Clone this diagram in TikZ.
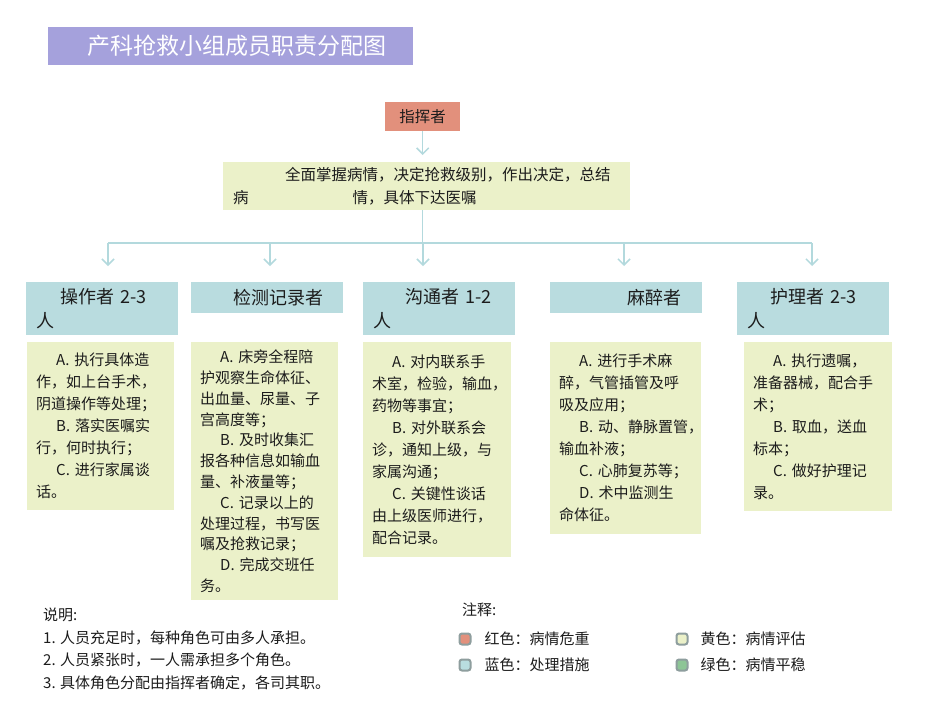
\documentclass[tikz,border=0pt]{standalone}
\usepackage{fontspec}
\newfontfamily\cjk{Noto Sans CJK SC}
\usetikzlibrary{arrows.meta,positioning}
\usepackage{xcolor}
\definecolor{titlepurple}{HTML}{A5A1DC}
\definecolor{chiefred}{HTML}{E2907C}
\definecolor{evalyellow}{HTML}{EBF1C9}
\definecolor{actteal}{HTML}{B9DDE0}
\definecolor{acttealfill}{HTML}{ADD7DA}
\definecolor{stablegreen}{HTML}{8DC596}
\definecolor{linkblue}{HTML}{B3D9DD}
\definecolor{ink}{HTML}{1C1C1C}
\definecolor{legendrim}{HTML}{8E9E9E}
\pgfdeclarelayer{bg}
\pgfsetlayers{bg,main}
\tikzset{
  box/.style={anchor=north west, inner ysep=1pt, text=ink, font=\cjk\fontsize{15}{22}\selectfont},
  titlebox/.style={box, fill=titlepurple, text=white, inner xsep=0pt, align=left, font=\cjk\fontsize{23}{28}\selectfont},
  chiefbox/.style={box, fill=chiefred, align=center, font=\cjk\fontsize{15.5}{20}\selectfont},
  sumbox/.style={box, fill=evalyellow, inner xsep=10pt, align=left, font=\cjk\fontsize{15.5}{23}\selectfont},
  rolebox/.style={box, fill=acttealfill, fill opacity=0.85, text opacity=1, minimum width=152pt, text width=132pt, inner xsep=10pt, align=left, font=\cjk\fontsize{18}{24}\selectfont},
  dutybox/.style={box, fill=evalyellow, inner xsep=9pt, align=left},
  note/.style={anchor=west, inner sep=0pt, text=ink, font=\cjk\fontsize{15}{20}\selectfont},
  legbox/.style={draw=legendrim, line width=2pt, rounded corners=2.5pt, minimum size=11pt, inner sep=0pt},
  link/.style={draw=linkblue, line width=1.5pt},
  arrow/.style={link, -{Straight Barb[length=6pt,width=12pt]}}
}
\newcommand{\itemind}{\hspace*{20pt}}

\begin{document}
\begin{tikzpicture}[x=1pt, y=-1pt]
  \path[use as bounding box, fill=white] (0,0) rectangle (950,713);

  % title and commander
  \node[titlebox, minimum height=38pt, text width=365pt] (title) at (48,27) {\hspace*{39pt}产科抢救小组成员职责分配图};
  \node[chiefbox, minimum width=75pt, minimum height=29pt] (chief) at (385,102) {指挥者};
  \node[sumbox, minimum width=407pt, text width=387pt, minimum height=48pt] (summary) at (223,162) {\hspace*{52pt}全面掌握病情，决定抢救级别，作出决定，总结\\病\hspace*{104pt}情，具体下达医嘱};

  % roles
  \node[rolebox, minimum height=53pt] (oper) at (26,282) {\hspace*{24pt}操作者 2-3\\人};
  \node[rolebox, minimum height=31pt] (moni) at (191,282) {\hspace*{32pt}检测记录者};
  \node[rolebox, minimum height=53pt] (liai) at (363,282) {\hspace*{32pt}沟通者 1-2\\人};
  \node[rolebox, minimum height=31pt] (anes) at (550,282) {\hspace*{67pt}麻醉者};
  \node[rolebox, minimum height=53pt] (nurs) at (737,282) {\hspace*{23pt}护理者 2-3\\人};

  % duties
  \node[dutybox, text width=129pt, minimum height=168pt] (operjob) at (27,342) {\itemind A.~执行具体造\\作，如上台手术，\\阴道操作等处理；\\\itemind B.~落实医嘱实\\行，何时执行；\\\itemind C.~进行家属谈\\话。};
  \node[dutybox, text width=129pt, minimum height=258pt, font=\cjk\fontsize{15}{20.8}\selectfont] (monijob) at (191,342) {\itemind A.~床旁全程陪\\护观察生命体征、\\出血量、尿量、子\\宫高度等；\\\itemind B.~及时收集汇\\报各种信息如输血\\量、补液量等；\\\itemind C.~记录以上的\\处理过程，书写医\\嘱及抢救记录；\\\itemind D.~完成交班任\\务。};
  \node[dutybox, text width=130pt, minimum height=215pt] (liaijob) at (363,342) {\itemind A.~对内联系手\\术室，检验，输血，\\药物等事宜；\\\itemind B.~对外联系会\\诊，通知上级，与\\家属沟通；\\\itemind C.~关键性谈话\\由上级医师进行，\\配合记录。};
  \node[dutybox, text width=133pt, minimum height=192pt] (anesjob) at (550,342) {\itemind A.~进行手术麻\\醉，气管插管及呼\\吸及应用；\\\itemind B.~动、静脉置管，\\输血补液；\\\itemind C.~心肺复苏等；\\\itemind D.~术中监测生\\命体征。};
  \node[dutybox, text width=130pt, minimum height=169pt] (nursjob) at (744,342) {\itemind A.~执行遗嘱，\\准备器械，配合手\\术；\\\itemind B.~取血，送血\\标本；\\\itemind C.~做好护理记\\录。};

  % connectors
  \coordinate (drop1) at (108,243);
  \coordinate (drop2) at (270,243);
  \coordinate (drop3) at (423,243);
  \coordinate (drop4) at (624,243);
  \coordinate (drop5) at (812,243);
  \draw[arrow, shorten >=7pt] (chief.south) -- (chief.south |- summary.north);
  \draw[link] (chief.south |- summary.south) -- (chief.south |- drop3);
  \draw[link] (drop1) -- (drop5);
  \foreach \d/\r in {1/oper,2/moni,3/liai,4/anes,5/nurs}
    \draw[arrow, shorten >=16pt] (drop\d) -- (drop\d |- \r.north);
  \begin{pgfonlayer}{bg}
    \foreach \r/\j in {oper/operjob,moni/monijob,liai/liaijob,anes/anesjob,nurs/nursjob}
      \draw[arrow, shorten >=9pt] (\j.north |- moni.south) -- (\j.north);
  \end{pgfonlayer}

  % notes
  \node[note] (notehead) at (43,615) {说明:};
  \node[note] (note1) at (43,638) {1. 人员充足时，每种角色可由多人承担。};
  \node[note] (note2) at (43,660) {2. 人员紧张时，一人需承担多个角色。};
  \node[note] (note3) at (43,683) {3. 具体角色分配由指挥者确定，各司其职。};

  % legend
  \node[note] (keyhead) at (462,610) {注释:};
  \node[legbox, fill=chiefred] (keyred) at (465,639) {};
  \node[legbox, fill=actteal] (keyblue) at (465,665) {};
  \node[legbox, fill=evalyellow] (keyyellow) at (682,639) {};
  \node[legbox, fill=stablegreen] (keygreen) at (682,665) {};
  \node[note, right=13pt of keyred] (keyredtext) {红色：病情危重};
  \node[note, right=13pt of keyblue] (keybluetext) {蓝色：处理措施};
  \node[note, right=12pt of keyyellow] (keyyellowtext) {黄色：病情评估};
  \node[note, right=12pt of keygreen] (keygreentext) {绿色：病情平稳};
\end{tikzpicture}
\end{document}
